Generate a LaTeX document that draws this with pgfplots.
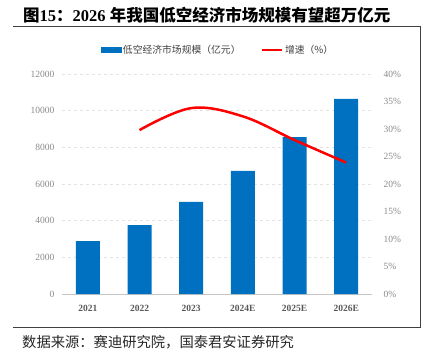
\documentclass[border=0pt]{standalone}
\usepackage{fontspec}
\setmainfont{Liberation Serif}
\newfontfamily\cjk{Noto Sans CJK SC}
\usepackage{pgfplots}
\pgfplotsset{compat=1.18}
\definecolor{barblue}{HTML}{0070C0}
\definecolor{tickgray}{HTML}{8A8A8A}
\definecolor{gridgray}{HTML}{E3E3E3}
\definecolor{framegray}{HTML}{404040}
\begin{document}
\begin{tikzpicture}
\path[use as bounding box] (0pt,0pt) rectangle (422pt,-357pt);
\draw[line width=0.9pt, color=framegray] (13pt,-26.5pt) -- (420.5pt,-26.5pt) -- (420.5pt,-327.5pt) -- (13pt,-327.5pt);
\node[anchor=west, inner sep=0pt, font=\fontsize{16.5}{18}\selectfont] at (23pt,-15pt)
  {{\cjk\bfseries 图}{\bfseries 15}{\cjk\bfseries ：}{\bfseries 2026 }{\cjk\bfseries 年我国低空经济市场规模有望超万亿元}};
\node[anchor=west, inner sep=0pt, font=\fontsize{14.3}{16}\selectfont\cjk, text=black!85] at (22pt,-342pt) {数据来源：赛迪研究院，国泰君安证券研究};

\begin{axis}[
  at={(62pt,-294pt)}, anchor=south west, scale only axis,
  width=310pt, height=220pt,
  xmin=-0.5, xmax=5.5, ymin=0, ymax=12000,
  ytick={0,2000,...,12000},
  xtick={0,...,5},
  xticklabels={2021,2022,2023,2024E,2025E,2026E},
  axis x line*=bottom, axis y line*=left,
  y axis line style={draw=none},
  x axis line style={draw=gray!45, -},
  major tick length=0pt,
  ymajorgrids, grid style={dashed, gridgray, line width=0.6pt},
  yticklabel style={font=\fontsize{9.5}{10}\selectfont, text=tickgray, xshift=-4pt},
  xticklabel style={font=\fontsize{9.5}{10}\selectfont\bfseries, text=black!65, yshift=-8pt},
  scaled y ticks=false,
  /pgf/number format/.cd, 1000 sep={}, assume math mode=true,
]
\addplot[ybar, bar width=24pt, fill=barblue, draw=none] coordinates {
  (0,2890) (1,3760) (2,5020) (3,6710) (4,8560) (5,10640)};
\end{axis}

\begin{axis}[
  at={(62pt,-294pt)}, anchor=south west, scale only axis,
  width=310pt, height=220pt,
  xmin=-0.5, xmax=5.5, ymin=0, ymax=40,
  ytick={0,5,...,40},
  yticklabel={\pgfmathprintnumber{\tick}\%},
  axis y line*=right, axis x line=none,
  y axis line style={draw=none},
  major tick length=0pt,
  yticklabel style={font=\fontsize{9.5}{10}\selectfont, text=tickgray, xshift=8pt},
  /pgf/number format/assume math mode=true,
  legend style={at={(0.503,1.109)}, anchor=center, draw=none, fill=none,
    legend columns=2, font=\cjk\fontsize{9.8}{11}\selectfont, text=black!75,
    /tikz/every even column/.append style={column sep=18pt}},
]
\addlegendimage{legend image code/.code={\fill[barblue] (0pt,-2.5pt) rectangle (20pt,2.5pt);}}
\addlegendentry{低空经济市场规模（亿元）}
\addplot[red, line width=2.5pt, smooth, tension=0.6,
  legend image code/.code={\draw[red, line width=2.5pt] (0pt,0pt) -- (20pt,0pt);}]
  coordinates {(1,29.8) (2,33.8) (3,32.3) (4,28.0) (5,23.9)};
\addlegendentry{增速（\%）}
\end{axis}
\end{tikzpicture}
\end{document}
